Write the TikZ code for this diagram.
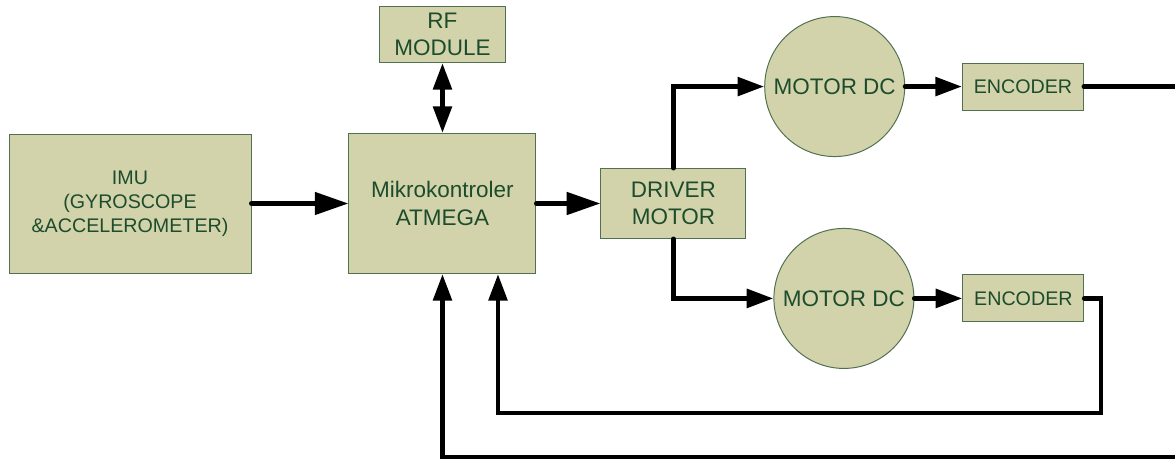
\documentclass[tikz,border=0pt]{standalone}
\usepackage{fontspec}
\setmainfont{Liberation Sans}
\usetikzlibrary{
    shapes,
    positioning,
    arrows.meta,
}
\definecolor{boxfill}{RGB}{211,211,171}
\definecolor{boxline}{RGB}{80,112,82}
\definecolor{boxtext}{RGB}{28,76,44}
\tikzset{
    block/.style={rectangle, draw=boxline, fill=boxfill, text=boxtext, line width=0.7pt, text centered, align=center, inner sep=2pt, font=\fontsize{16}{19.4}\selectfont},
    motor/.style={circle, draw=boxline, fill=boxfill, text=boxtext, line width=0.7pt, text centered, minimum size=3.5cm, inner sep=0pt, font=\fontsize{16}{19.4}\selectfont},
    small/.style={font=\fontsize{14}{17}\selectfont},
    wire/.style={line width=3.5pt, line cap=round},
    link/.style={wire, -{Triangle[length=19pt, width=13pt]}},
    biglink/.style={wire, -{Triangle[length=24pt, width=15.6pt]}},
    duplex/.style={wire, {Triangle[length=19pt, width=13pt]}-{Triangle[length=19pt, width=13pt]}},
}
\begin{document}
\begin{tikzpicture}
    \useasboundingbox (0,0) rectangle (29.375,-11.5);

    \node[block, small, minimum width=6.05cm, minimum height=3.475cm] (imu) at (3.25,-5.0875) {IMU\\(GYROSCOPE\\\&ACCELEROMETER)};

    \node[block, minimum width=4.675cm, minimum height=3.5cm, right=2.425cm of imu] (atmega) {Mikrokontroler\\ATMEGA};
    \node[block, minimum width=3.15cm, minimum height=1.4cm, above=1.75cm of atmega] (rf) {RF\\MODULE};

    \node[block, minimum width=3.625cm, minimum height=1.75cm, right=1.6cm of atmega] (driver) {DRIVER\\MOTOR};

    \node[motor, above right=0.79cm and 0.96cm of driver] (motor1) {MOTOR DC};
    \node[motor, below right=0.24cm and 1.19cm of driver] (motor2) {MOTOR DC};

    \node[block, small, minimum width=3.025cm, minimum height=1.175cm, right=1.42cm of motor1] (enc1) {ENCODER};
    \node[block, small, minimum width=3.025cm, minimum height=1.175cm, right=1.2cm of motor2] (enc2) {ENCODER};

    \coordinate (fbright) at (27.525,-10.325);
    \coordinate (fbedge) at (29.8,-11.425);

    % ===== CONNECTIONS =====
    \draw[biglink] (imu) -- (atmega);
    \draw[biglink] (atmega) -- (driver);
    \draw[duplex] (atmega) -- (rf);

    \draw[link] (driver.north) |- (motor1.west);
    \draw[link] (driver.south) |- (motor2.west);
    \draw[link] (motor1) -- (enc1);
    \draw[link] (motor2) -- (enc2);

    \draw[link] (enc2.east) -| (fbright) -| ([xshift=1.3875cm]atmega.south);
    \draw[link] (enc1.east) -| (fbedge) -| (atmega.south);

\end{tikzpicture}
\end{document}
